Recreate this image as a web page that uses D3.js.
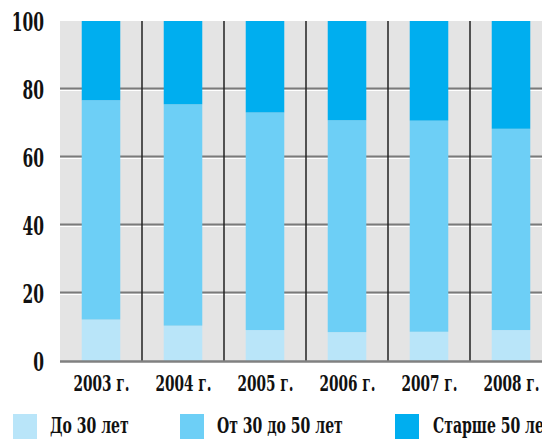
<!DOCTYPE html>
<html><head><meta charset="utf-8">
<script src="https://cdn.jsdelivr.net/npm/d3@7"></script>
<style>body{margin:0;background:#fff;}svg{display:block;}</style>
</head><body>
<script>
const categories = ["2003 г.", "2004 г.", "2005 г.", "2006 г.", "2007 г.", "2008 г."];
const seriesNames = ["До 30 лет", "От 30 до 50 лет", "Старше 50 лет"];
const under30 = [12.2, 10.4, 9.1, 8.5, 8.6, 9.1];
const from30to50 = [64.5, 65.1, 64.0, 62.3, 62.1, 59.2];
const over50 = [23.3, 24.5, 26.9, 29.2, 29.3, 31.7];
const yTicks = [0, 20, 40, 60, 80, 100];
const colors = ["#b9e5f9", "#6dcff6", "#00aeef"];

const W = 542, H = 439;
const svg = d3.select("body").append("svg").attr("width", W).attr("height", H);
const x = d3.scaleBand().domain(categories).range([60, 552]).padding(0);
const y = d3.scaleLinear().domain([0, 100]).range([361, 21]);
const fontFam = "'DejaVu Serif Condensed','DejaVu Serif',serif";

svg.append("rect").attr("x", 60).attr("y", y(100)).attr("width", 492).attr("height", y(0) - y(100)).attr("fill", "#e4e4e4");

yTicks.filter(t => t > 0 && t < 100).forEach(t => {
  svg.append("line").attr("x1", 60).attr("x2", 552).attr("y1", y(t) - 0.5).attr("y2", y(t) - 0.5)
    .attr("stroke", "#7a7a7a").attr("stroke-width", 2);
  svg.append("line").attr("x1", 60).attr("x2", 552).attr("y1", y(t) + 1.5).attr("y2", y(t) + 1.5)
    .attr("stroke", "#ffffff").attr("stroke-width", 1);
});

categories.slice(1).forEach(c => {
  svg.append("line").attr("x1", x(c)).attr("x2", x(c)).attr("y1", y(100)).attr("y2", y(0))
    .attr("stroke", "#222").attr("stroke-width", 1.5);
});

const data = categories.map((c, i) => ({cat: c, a: under30[i], b: from30to50[i], c: over50[i]}));
const stack = d3.stack().keys(["a", "b", "c"])(data);
const barW = x.bandwidth() * 0.47;
stack.forEach((layer, li) => {
  svg.append("g").selectAll("rect").data(layer).join("rect")
    .attr("x", d => x(d.data.cat) + (x.bandwidth() - barW) / 2)
    .attr("width", barW)
    .attr("y", d => y(Math.min(d[1], 100)))
    .attr("height", d => y(d[0]) - y(Math.min(d[1], 100)))
    .attr("fill", colors[li]);
});

svg.append("line").attr("x1", 60).attr("x2", 552).attr("y1", y(0) + 0.5).attr("y2", y(0) + 0.5)
  .attr("stroke", "#808080").attr("stroke-width", 2.5);

function txt(tx, ty, sx, size, anchor, s) {
  return svg.append("text").attr("transform", `translate(${tx},${ty}) scale(${sx},1)`)
    .attr("text-anchor", anchor).attr("font-family", fontFam).attr("font-stretch", "condensed")
    .attr("font-weight", "bold").attr("font-size", size).attr("fill", "#111").text(s);
}

yTicks.forEach(t => {
  txt(44, y(t) + 9.5, 0.66, 26, "end", t);
});

categories.forEach(c => {
  txt(x(c) + x.bandwidth() / 2 + 0.5, 391, 0.69, 22, "middle", c);
});

const legX = [13, 180, 395];
const legTX = [50, 217, 433];
seriesNames.forEach((n, i) => {
  svg.append("rect").attr("x", legX[i]).attr("y", 414).attr("width", 24).attr("height", 30).attr("fill", colors[i]);
  txt(legTX[i], 433, 0.71, 22, "start", n);
});
</script>
</body></html>
